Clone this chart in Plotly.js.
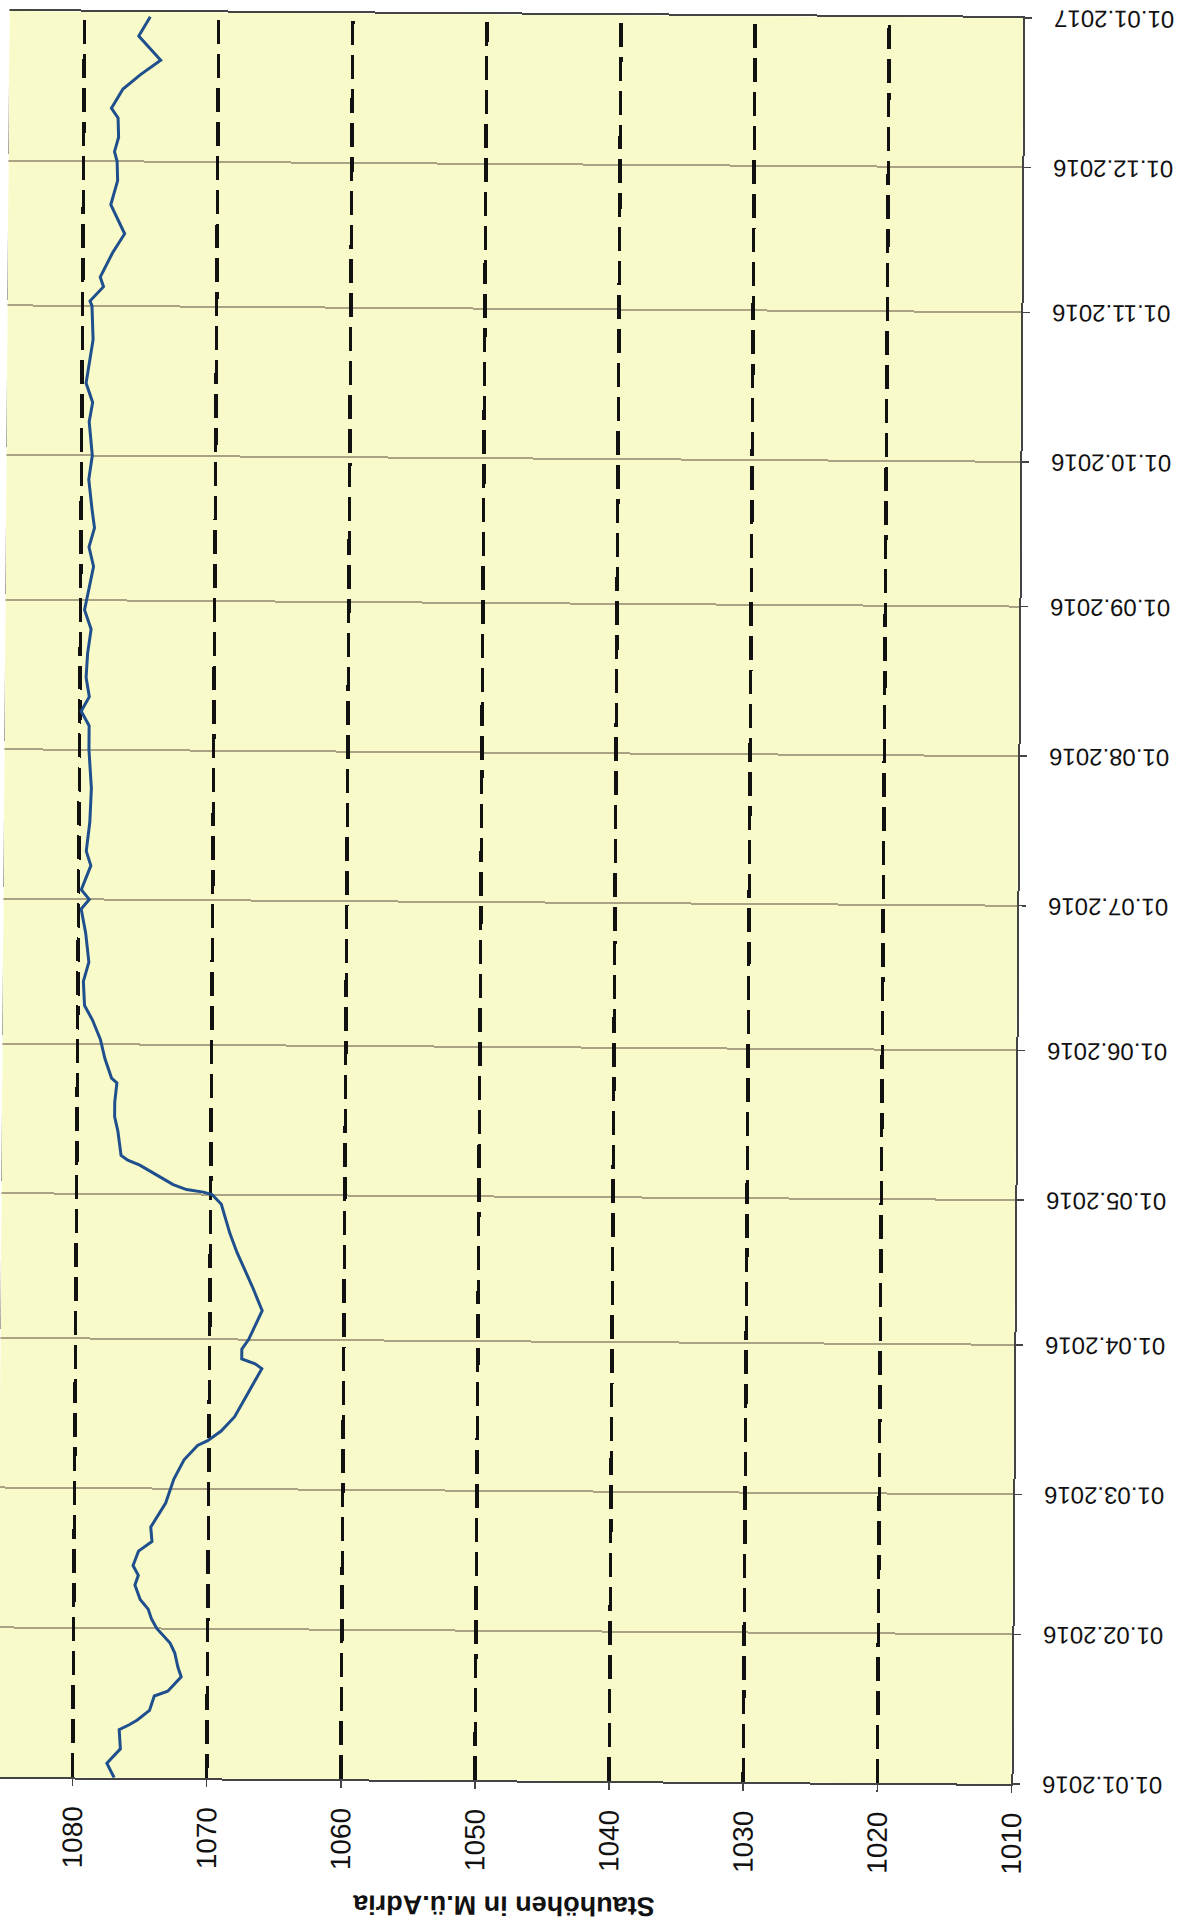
<!DOCTYPE html>
<html><head><meta charset="utf-8">
<script src="https://cdn.plot.ly/plotly-3.0.1.min.js"></script>
<style>
html,body{margin:0;padding:0;width:1177px;height:1932px;overflow:hidden;background:#fff;}
#wrap{position:absolute;left:0;top:0;width:1177px;height:1932px;transform-origin:588.5px 966px;transform:translate(3px,0) rotate(0.39deg);}
#chart{position:absolute;left:0;top:1932px;width:1932px;height:1177px;transform-origin:0 0;transform:rotate(-90deg);}
</style></head><body><div id="wrap"><div id="chart"></div></div>
<script>
const dates = ['2016-01-01','2016-01-04','2016-01-07','2016-01-11','2016-01-12','2016-01-13','2016-01-15','2016-01-18','2016-01-19','2016-01-22','2016-01-24','2016-01-27','2016-01-29',
'2016-02-01','2016-02-03','2016-02-05','2016-02-07','2016-02-10','2016-02-12','2016-02-14','2016-02-17','2016-02-19','2016-02-22','2016-02-27',
'2016-03-03','2016-03-07','2016-03-10','2016-03-11','2016-03-13','2016-03-16','2016-03-21','2016-03-26','2016-03-27','2016-03-28','2016-03-30',
'2016-04-01','2016-04-04','2016-04-07','2016-04-12','2016-04-15','2016-04-19','2016-04-23','2016-04-29',
'2016-05-01','2016-05-01 12:00','2016-05-02','2016-05-03','2016-05-05','2016-05-07','2016-05-08','2016-05-09','2016-05-14','2016-05-17','2016-05-20','2016-05-24','2016-05-25','2016-05-29',
'2016-06-02','2016-06-06','2016-06-09','2016-06-14','2016-06-18','2016-06-24','2016-06-29',
'2016-07-01','2016-07-03','2016-07-08','2016-07-11','2016-07-17','2016-07-24',
'2016-08-01','2016-08-06','2016-08-09','2016-08-12','2016-08-16','2016-08-21','2016-08-26','2016-08-30',
'2016-09-05','2016-09-08','2016-09-12','2016-09-16','2016-09-20','2016-09-26',
'2016-10-01','2016-10-08','2016-10-12','2016-10-16','2016-10-25',
'2016-11-01','2016-11-02','2016-11-05','2016-11-07','2016-11-12','2016-11-16','2016-11-22','2016-11-27',
'2016-12-01','2016-12-03','2016-12-06','2016-12-10','2016-12-12','2016-12-16','2016-12-19','2016-12-22','2016-12-27','2016-12-31'];
const levels = [1076.9,1077.45,1076.45,1076.55,1075.8,1075.2,1074.3,1073.95,1072.95,1071.95,1072.2,1072.45,1072.8,
1073.8,1074.2,1074.45,1075.05,1075.45,1075.2,1075.6,1075.2,1074.2,1074.3,1073.2,
1072.6,1071.85,1070.85,1070.1,1069.1,1068.1,1067.1,1066.1,1066.6,1067.6,1067.6,
1067.1,1066.6,1066.1,1066.85,1067.35,1068.0,1068.55,1069.2,
1069.9,1070.55,1071.8,1072.8,1074.05,1075.3,1076.2,1076.7,1076.95,1077.2,1077.2,1077.05,1077.45,1077.95,
1078.3,1078.9,1079.5,1079.6,1079.2,1079.45,1079.8,
1079.2,1079.8,1079.1,1079.45,1079.2,1079.1,
1079.3,1079.3,1079.9,1079.3,1079.55,1079.45,1079.2,1079.7,
1079.3,1079.05,1079.4,1079.0,1079.2,1079.45,
1079.2,1079.45,1079.2,1079.7,1079.2,
1079.3,1079.45,1078.45,1078.7,1077.8,1076.9,1077.95,1077.45,
1077.5,1077.7,1077.4,1077.45,1077.95,1077.1,1075.8,1074.3,1075.95,1075.1];
const levelTicks = [1010,1020,1030,1040,1050,1060,1070,1080];
const axisTitle = 'Stauhöhen in M.ü.Adria';

const W = 1932, H = 1177;
const m = {l:151, r:15, t:0, b:163};
const pw = W - m.l - m.r;

const font = 'Liberation Sans, Arial, sans-serif';
Plotly.newPlot('chart', [{
  x: dates, y: levels, type: 'scatter', mode: 'lines',
  line: {color: '#1f4f8c', width: 3}, hoverinfo: 'skip'
}], {
  width: W, height: H, margin: m,
  paper_bgcolor: '#ffffff', plot_bgcolor: '#f8fac9',
  showlegend: false,
  xaxis: {
    type: 'date', range: ['2016-01-01','2017-01-01'],
    tick0: '2016-01-01', dtick: 'M1', tickformat: '%d.%m.%Y',
    tickangle: -90, ticks: 'outside', ticklen: 7, tickcolor: '#444', tickwidth: 1.5,
    ticklabelstandoff: 12,
    tickfont: {family: font, size: 24, color: '#111'},
    showgrid: true, gridcolor: '#aaa283', gridwidth: 2,
    showline: true, linecolor: '#444', linewidth: 2, mirror: true,
    zeroline: false, fixedrange: true
  },
  yaxis: {
    range: [1010, 1085.6], tickvals: levelTicks, ticktext: levelTicks.map(String),
    ticks: 'outside', ticklen: 7, tickcolor: '#444', tickwidth: 1.5,
    ticklabelstandoff: 14,
    tickfont: {family: font, size: 28, color: '#111'},
    showgrid: true, gridcolor: '#111111', gridwidth: 3.5, griddash: '24px,10px',
    showline: true, linecolor: '#444', linewidth: 2, mirror: true,
    zeroline: false, fixedrange: true
  },
  annotations: [{
    text: '<b>' + axisTitle + '</b>', xref: 'paper', yref: 'paper',
    x: (26 - m.l) / pw, y: 0.5, xanchor: 'center', yanchor: 'middle',
    textangle: -90, showarrow: false,
    font: {family: font, size: 27, color: '#111'}
  }]
}, {staticPlot: true, displayModeBar: false});
</script></body></html>
